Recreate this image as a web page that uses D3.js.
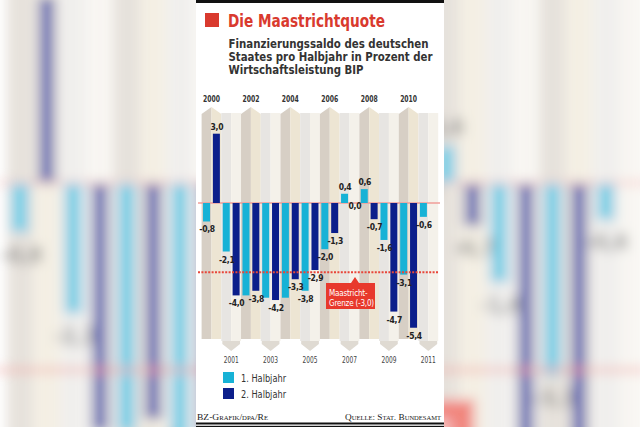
<!DOCTYPE html>
<html><head><meta charset="utf-8">
<script src="https://cdn.jsdelivr.net/npm/d3@7"></script>
<style>body{margin:0;background:#fff} svg{display:block}</style>
</head><body>
<svg id="c" width="640" height="427"></svg>
<script>
// ---------- data ----------
const years = ["2000","2001","2002","2003","2004","2005","2006","2007","2008","2009","2010","2011"];
const halfNames = ["1","2"];
const periods = ["2000-1","2000-2","2001-1","2001-2","2002-1","2002-2","2003-1","2003-2","2004-1","2004-2","2005-1","2005-2","2006-1","2006-2","2007-1","2007-2","2008-1","2008-2","2009-1","2009-2","2010-1","2010-2","2011-1"];
const values = [-0.8, 3.0, -2.1, -4.0, -4.0, -3.8, -4.1, -4.2, -4.1, -3.3, -3.8, -2.9, -2.0, -1.3, 0.4, 0.0, 0.6, -0.7, -1.6, -4.7, -3.1, -5.4, -0.6];
const labelShown = [1,1,1,1,0,1,0,1,0,1,1,1,1,1,1,1,1,1,1,1,1,1,1];
const topYears = ["2000","2002","2004","2006","2008","2010"];
const bottomYears = ["2001","2003","2005","2007","2009","2011"];
const legendItems = ["1. Halbjahr","2. Halbjahr"];
const limitValue = -3.0;
const titleText = "Die Maastrichtquote";
const subtitleLines = ["Finanzierungssaldo des deutschen","Staates pro Halbjahr in Prozent der","Wirtschaftsleistung BIP"];
const limitLabel = ["Maastricht-","Grenze (-3,0)"];
const sourceLeft = "BZ-Grafik/dpa/Re";
const sourceRight = "Quelle: Stat. Bundesamt";

// ---------- styles ----------
const C1 = "#17b2d6", C2 = "#0c1f8b";
const stripeCol = {even:["#d7cfc5","#ede5d3"], odd:["#e7e5e2","#f4f1ea"]};
const FONT = "'Liberation Sans Narrow','DejaVu Sans Condensed','Roboto',sans-serif";
const svg = d3.select("#c");

const slots = [];
years.forEach(y => halfNames.forEach(h => slots.push(y + "-" + h)));
const x = d3.scaleBand().domain(slots).range([201.6, 438.2]).padding(0);
const y = d3.scaleLinear().domain([-6, 4]).range([203 + 6*23.1, 203 - 4*23.1]);
const fmt = v => d3.format(".1f")(v).replace(".", ",").replace("\u2212", "-");

const defs = svg.append("defs");
defs.append("filter").attr("id","blur").attr("filterUnits","userSpaceOnUse")
  .attr("x",-100).attr("y",-100).attr("width",840).attr("height",627)
  .append("feGaussianBlur").attr("stdDeviation", 6);

// blurred enlarged background copy
svg.append("g").attr("filter","url(#blur)").attr("opacity",0.6)
  .append("use").attr("href","#art").attr("transform","translate(-537.5,-365) scale(2.7)");

// white panel
svg.append("rect").attr("x",196).attr("y",0).attr("width",248).attr("height",427).attr("fill","#fff");
svg.append("rect").attr("x",196).attr("y",0).attr("width",248).attr("height",3).attr("fill","#111");

// ---------- chart art ----------
const art = svg.append("g").attr("id","art");
const yTop = 113, yBot = 341;
years.forEach((yr, i) => {
  const x0 = x(yr+"-1"), mid = x(yr+"-2"), x2 = mid + x.bandwidth();
  const even = i % 2 === 0;
  const cols = even ? stripeCol.even : stripeCol.odd;
  if (even) {
    art.append("polygon").attr("points", [[x0,yTop+1],[mid,yTop-6],[mid,yBot-2],[x0,yBot-2]].join(" ")).attr("fill", cols[0]);
    art.append("polygon").attr("points", [[mid,yTop-6],[x2,yTop+1],[x2,yBot-2],[mid,yBot-2]].join(" ")).attr("fill", cols[1]);
  } else {
    art.append("rect").attr("x",x0).attr("y",yTop).attr("width",mid-x0).attr("height",yBot-yTop).attr("fill",cols[0]);
    art.append("rect").attr("x",mid).attr("y",yTop).attr("width",x2-mid).attr("height",yBot-yTop).attr("fill",cols[1]);
    art.append("polygon").attr("points", [[x0+1,yBot],[x2-1,yBot],[x2-1,yBot+3],[(x0+x2)/2,yBot+10],[x0+1,yBot+3]].join(" ")).attr("fill","#dfdad2");
  }
});

// zero line
art.append("line").attr("x1",198).attr("x2",440).attr("y1",y(0)).attr("y2",y(0)).attr("stroke","#f19c98").attr("stroke-width",1.3);

// bars
const bw = 7;
art.selectAll("rect.bar").data(periods).join("rect").attr("class","bar")
  .attr("x", d => x(d) + (x.bandwidth()-bw)/2)
  .attr("width", bw)
  .attr("y", (d,i) => y(Math.max(0, values[i])))
  .attr("height", (d,i) => Math.abs(y(values[i]) - y(0)))
  .attr("fill", d => d.endsWith("-1") ? C1 : C2);

// Maastricht line
art.append("line").attr("x1",198).attr("x2",438).attr("y1",y(limitValue)).attr("y2",y(limitValue))
  .attr("stroke","#e8463a").attr("stroke-width",2).attr("stroke-dasharray","2,1.4");

// value labels
art.selectAll("text.val").data(periods.filter((d,i)=>labelShown[i])).join("text").attr("class","val")
  .attr("x", d => x(d) + x.bandwidth()/2 + 0.5)
  .attr("y", d => { const v = values[periods.indexOf(d)]; return v > 0 ? y(v) - 4 : (v === 0 ? y(0) + 6 : y(v) + 11); })
  .attr("text-anchor","middle").attr("font-family",FONT).attr("font-size",8.5).attr("font-weight","bold")
  .attr("letter-spacing",-0.3).attr("fill","#222")
  .text(d => fmt(values[periods.indexOf(d)]));

// Maastricht label box
art.append("polygon").attr("points","351,283 355,277 359,283").attr("fill","#e8392c");
art.append("rect").attr("x",326).attr("y",283).attr("width",49).attr("height",26).attr("fill","#e8392c");
limitLabel.forEach((t,i) => art.append("text").attr("x",329).attr("y",296 + i*10)
  .attr("font-family",FONT).attr("font-size",8).attr("fill","#fff").attr("letter-spacing",-0.2).text(t));

// ---------- year labels ----------
svg.selectAll("text.ty").data(topYears).join("text").attr("class","ty")
  .attr("x", d => x(d+"-2")).attr("y",102).attr("text-anchor","middle")
  .attr("font-family",FONT).attr("font-size",9).attr("font-weight","bold").attr("fill","#333")
  .attr("textLength",17).attr("lengthAdjust","spacingAndGlyphs").text(d => d);
svg.selectAll("text.by").data(bottomYears).join("text").attr("class","by")
  .attr("x", d => x(d+"-2")).attr("y",363).attr("text-anchor","middle")
  .attr("font-family",FONT).attr("font-size",9).attr("fill","#444")
  .attr("textLength",15).attr("lengthAdjust","spacingAndGlyphs").text(d => d);

// ---------- title ----------
svg.append("rect").attr("x",205).attr("y",13).attr("width",14).attr("height",14).attr("fill","#d93a2e");
svg.append("text").attr("x",228).attr("y",27).attr("font-family",FONT).attr("font-size",17).attr("font-weight","bold")
  .attr("fill","#d93a2e").attr("textLength",157).attr("lengthAdjust","spacingAndGlyphs").text(titleText);
const subLens = [200, 204, 135];
subtitleLines.forEach((t,i) => svg.append("text").attr("x",228.5).attr("y",48 + i*12.8)
  .attr("font-family",FONT).attr("font-size",12).attr("font-weight","bold").attr("fill","#333")
  .attr("textLength",subLens[i]).attr("lengthAdjust","spacingAndGlyphs").text(t));

// ---------- legend ----------
legendItems.forEach((t,i) => {
  svg.append("rect").attr("x",223).attr("y",372 + i*16).attr("width",11).attr("height",11).attr("fill", i ? C2 : C1);
  svg.append("text").attr("x",241).attr("y",381.5 + i*16).attr("font-family",FONT).attr("font-size",10)
    .attr("fill","#333").attr("textLength",45).attr("lengthAdjust","spacingAndGlyphs").text(t);
});

// ---------- footer ----------
const SERIF = "'Liberation Serif','DejaVu Serif',serif";
svg.append("text").attr("x",197).attr("y",420).attr("font-family",SERIF).attr("font-size",8.5)
  .attr("font-variant","small-caps").attr("fill","#222").attr("textLength",71).attr("lengthAdjust","spacingAndGlyphs").text(sourceLeft);
svg.append("text").attr("x",345).attr("y",420).attr("font-family",SERIF).attr("font-size",8.5)
  .attr("font-variant","small-caps").attr("fill","#222").attr("textLength",96).attr("lengthAdjust","spacingAndGlyphs").text(sourceRight);
svg.append("rect").attr("x",196).attr("y",422.5).attr("width",248).attr("height",2).attr("fill","#111");
svg.append("rect").attr("x",196).attr("y",425.8).attr("width",248).attr("height",1.2).attr("fill","#111");
</script>
</body></html>
